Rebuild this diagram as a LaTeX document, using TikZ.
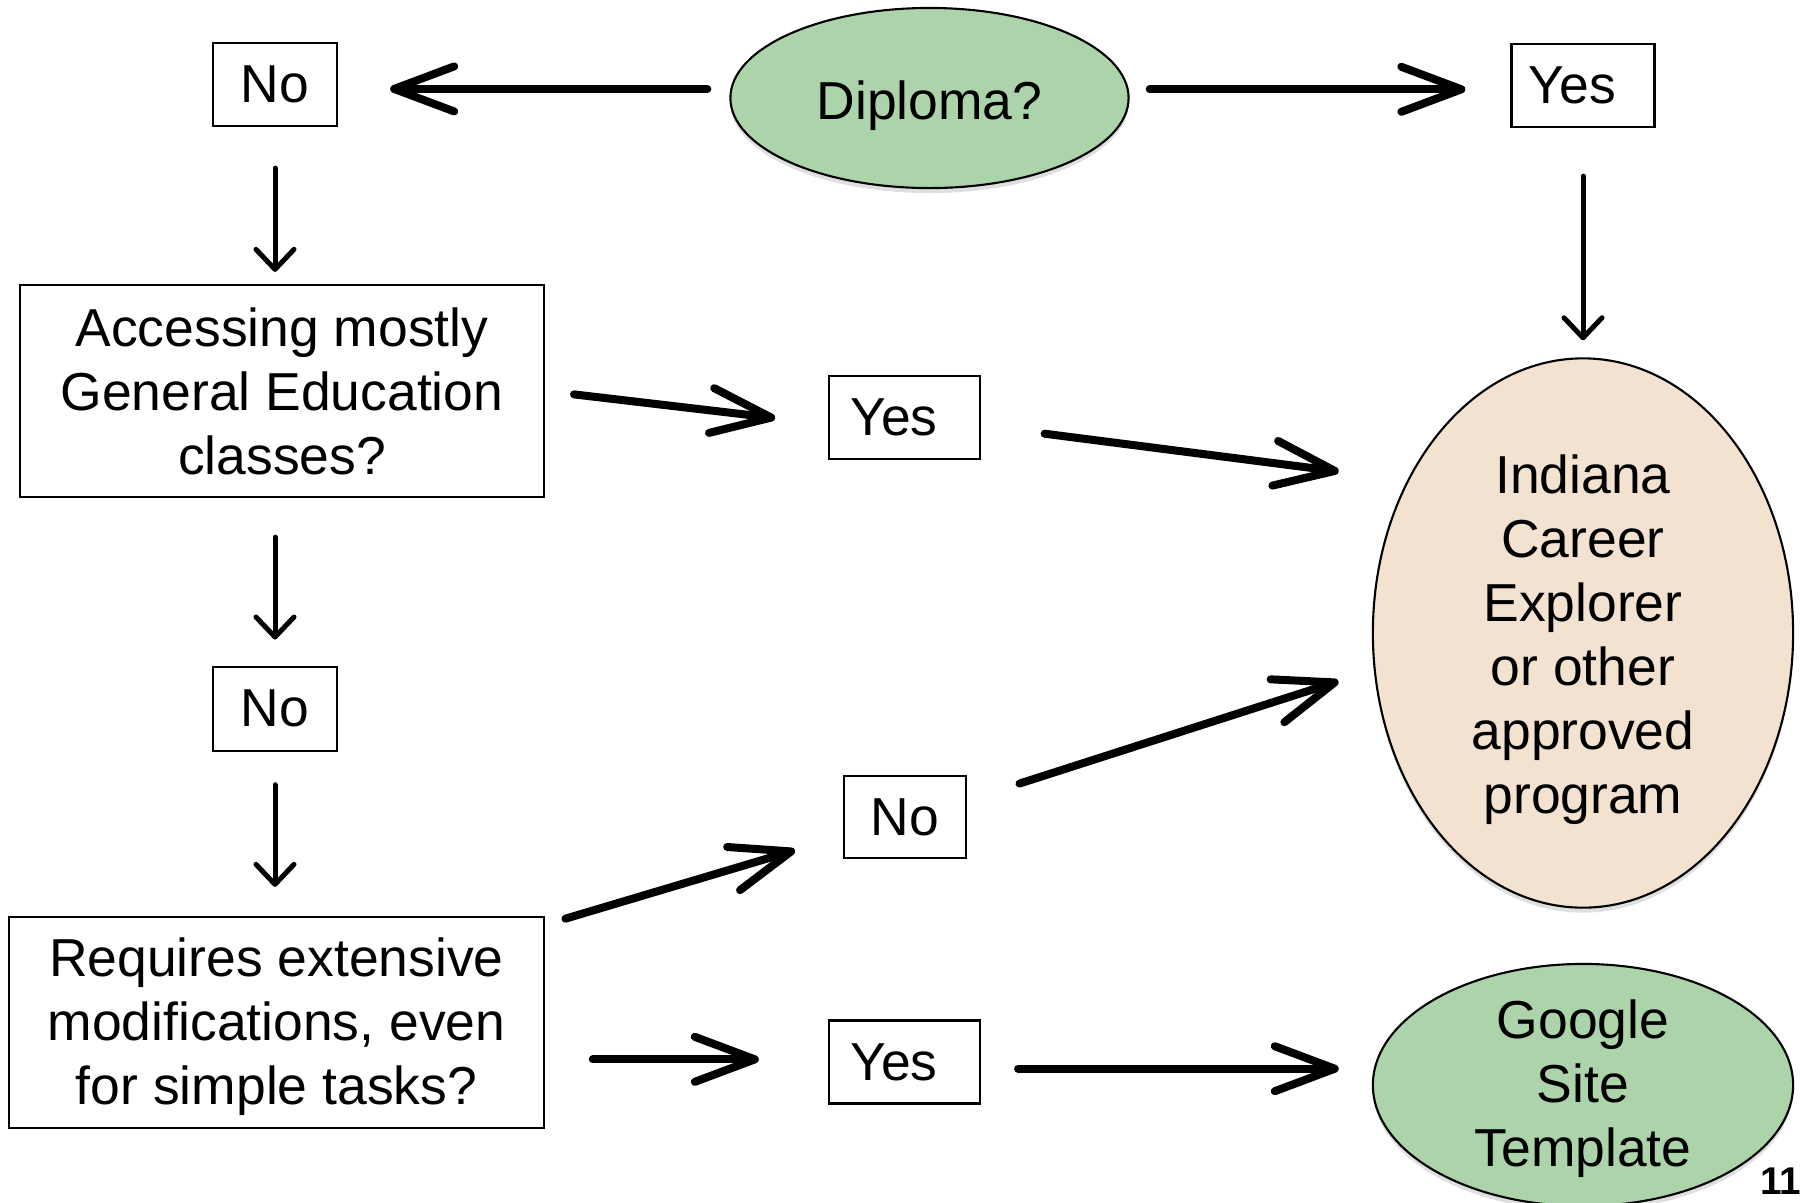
\documentclass[tikz,border=0pt]{standalone}
\usepackage{fontspec}
\setmainfont{Liberation Sans}
\usetikzlibrary{arrows.meta, shapes.geometric, shadows}

\definecolor{diplomagreen}{RGB}{173,211,170}
\definecolor{careerpeach}{RGB}{242,226,207}

\begin{document}
\begin{tikzpicture}[x=0.01cm, y=-0.01cm,
    every node/.style={font=\fontsize{15.2}{18.2}\selectfont},
    answer/.style={draw, line width=0.6pt, inner sep=0pt},
    yesbox/.style={answer, text width=1.08cm, align=left},
    question/.style={draw, line width=0.6pt, align=center, inner sep=0pt},
    outcome/.style={draw, ellipse, line width=0.6pt, align=center, inner xsep=0pt, inner ysep=-6pt, drop shadow={shadow xshift=0pt, shadow yshift=-0.05cm, opacity=0.25}},
    bigarrow/.style={line width=0.08cm, line cap=round, -{Straight Barb[length=0.6cm, width=0.45cm, round]}},
    thinarrow/.style={line width=0.05cm, line cap=round, -{Straight Barb[length=0.2cm, width=0.38cm, round]}}]
    \useasboundingbox (0,0) rectangle (1808,1202);
    \node[outcome, fill=diplomagreen, minimum width=3.98cm, minimum height=1.8cm, text height=15.5pt] (diploma) at (929.5,98) {Diploma?};
    \node[answer, minimum width=1.24cm, minimum height=0.83cm] (no1) at (275,84.5) {No};
    \node[yesbox, minimum width=1.43cm, minimum height=0.83cm] (yes1) at (1583,85.5) {Yes};
    \node[question, minimum width=5.24cm, minimum height=2.12cm] (acc) at (282,391) {Accessing mostly\\General Education\\classes?};
    \node[yesbox, minimum width=1.51cm, minimum height=0.83cm] (yes2) at (904.5,417.5) {Yes};
    \node[outcome, fill=careerpeach, minimum width=4.2cm, minimum height=5.49cm, text height=106pt] (ind) at (1583,633) {Indiana\\Career\\Explorer\\or other\\approved\\program};
    \node[answer, minimum width=1.24cm, minimum height=0.84cm] (no2) at (275,708.6) {No};
    \node[answer, minimum width=1.22cm, minimum height=0.82cm] (no3) at (905,817) {No};
    \node[question, minimum width=5.35cm, minimum height=2.11cm, text height=50pt] (req) at (276.5,1022.5) {Requires extensive\\modifications, even\\for simple tasks?};
    \node[yesbox, minimum width=1.51cm, minimum height=0.83cm] (yes3) at (904.5,1062) {Yes};
    \node[outcome, fill=diplomagreen, minimum width=4.2cm, minimum height=2.42cm, text height=49.5pt] (goog) at (1583,1085) {Google\\Site\\Template};
    \node[font=\fontsize{11}{13}\selectfont\bfseries] (page) at (1781,1181) {11};
    \draw[bigarrow, shorten <=0.22cm, shorten >=0.52cm] (diploma.west |- no1.-4) -- (no1.-4);
    \draw[bigarrow, shorten <=0.2cm, shorten >=0.45cm] (diploma.east |- yes1.183) -- (yes1.183);
    \draw[thinarrow, shorten <=0.41cm, shorten >=0.12cm] (no1) -- (no1 |- acc.north);
    \draw[thinarrow, shorten <=0.48cm, shorten >=0.17cm] (yes1) -- (ind);
    \draw[bigarrow, shorten <=0.29cm, shorten >=0.53cm] (acc.east) -- (yes2.185);
    \draw[bigarrow, shorten <=0.64cm, shorten >=0.69cm] (yes2.-6) -- (ind.139);
    \draw[thinarrow, shorten <=0.39cm, shorten >=0.26cm] (no2 |- acc.south) -- (no2);
    \draw[thinarrow, shorten <=0.33cm, shorten >=0.29cm] (no2) -- (no2 |- req.north);
    \draw[bigarrow, shorten <=0.21cm, shorten >=0.5cm] (req.20) -- (no3.197);
    \draw[bigarrow, shorten <=0.55cm, shorten >=0.37cm] (no3.15) -- (ind.190);
    \draw[bigarrow, shorten <=0.475cm, shorten >=0.69cm] (req.east |- yes3.178) -- (yes3.178);
    \draw[bigarrow, shorten <=0.37cm, shorten >=0.33cm] (yes3.-5) -- (yes3.-5 -| goog.west);
\end{tikzpicture}
\end{document}
